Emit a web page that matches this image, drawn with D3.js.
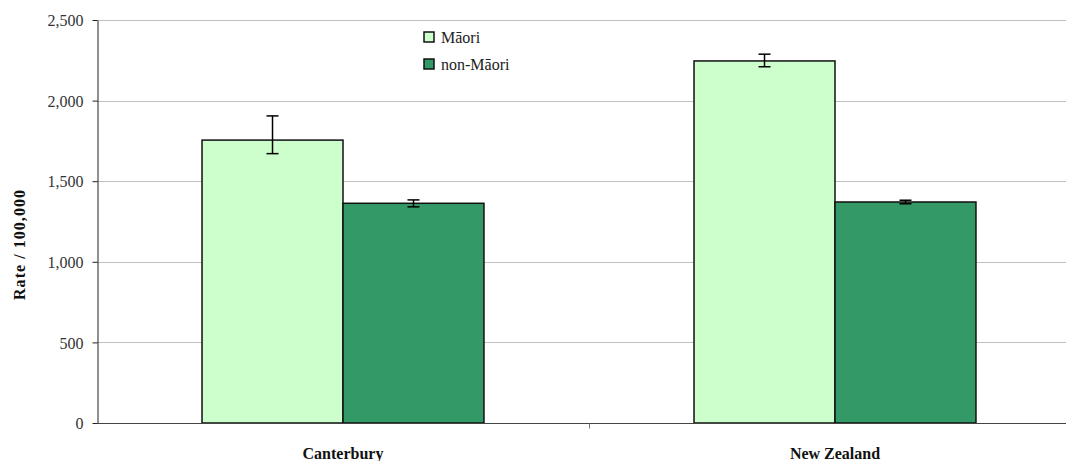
<!DOCTYPE html>
<html>
<head>
<meta charset="utf-8">
<script src="https://cdn.jsdelivr.net/npm/d3@7"></script>
<style>
  html, body { margin: 0; padding: 0; background: #fff; }
  svg { display: block; }
  svg text { font-family: "Liberation Serif", "DejaVu Serif", serif; }
</style>
</head>
<body>
<svg id="chart" width="1066" height="461"></svg>
<script>
// Rate per 100,000 by area and ethnicity, with 95% confidence intervals
const regions = ["Canterbury", "New Zealand"];
const groups = ["Māori", "non-Māori"];
const maoriRate = [1755, 2246];
const maoriLow = [1671, 2210];
const maoriHigh = [1905, 2288];
const nonMaoriRate = [1363, 1371];
const nonMaoriLow = [1341, 1360];
const nonMaoriHigh = [1384, 1382];
const yTicks = [0, 500, 1000, 1500, 2000, 2500];
const groupColours = ["#ccffcc", "#339966"];

const rows = regions.map((r, i) => ({
  region: r,
  values: [
    { group: groups[0], rate: maoriRate[i], lo: maoriLow[i], hi: maoriHigh[i] },
    { group: groups[1], rate: nonMaoriRate[i], lo: nonMaoriLow[i], hi: nonMaoriHigh[i] }
  ]
}));

const FONT = "'Liberation Serif', 'DejaVu Serif', serif";
const svg = d3.select("#chart");
const margin = { left: 97, top: 20, right: -15, bottom: 38 };
const W = 1066, H = 461;
const plotW = W - margin.left - margin.right;
const plotH = H - margin.top - margin.bottom;

const x0 = d3.scaleBand().domain(regions).range([margin.left, margin.left + plotW]).paddingInner(0).paddingOuter(0);
const x1 = d3.scaleBand().domain(groups).range([0, x0.bandwidth()]).paddingInner(0).paddingOuter(0.745);
const y = d3.scaleLinear().domain([0, 2500]).range([margin.top + plotH, margin.top]);
const colour = d3.scaleOrdinal().domain(groups).range(groupColours);

// horizontal gridlines
svg.append("g")
  .selectAll("line")
  .data(yTicks.filter(t => t > 0))
  .join("line")
  .attr("x1", margin.left).attr("x2", margin.left + plotW)
  .attr("y1", d => Math.round(y(d)) + 0.5).attr("y2", d => Math.round(y(d)) + 0.5)
  .attr("stroke", "#c0c0c0").attr("stroke-width", 1);

// bars
const cat = svg.append("g").selectAll("g")
  .data(rows).join("g")
  .attr("transform", d => `translate(${x0(d.region)},0)`);

cat.selectAll("rect")
  .data(d => d.values).join("rect")
  .attr("x", d => x1(d.group))
  .attr("width", x1.bandwidth())
  .attr("y", d => y(d.rate))
  .attr("height", d => y(0) - y(d.rate))
  .attr("fill", d => colour(d.group))
  .attr("stroke", "#111").attr("stroke-width", 1.5);

// confidence interval whiskers
const err = cat.selectAll("g.err")
  .data(d => d.values).join("g").attr("class", "err")
  .attr("transform", d => `translate(${x1(d.group) + x1.bandwidth() / 2},0)`);
err.append("line")
  .attr("y1", d => y(d.lo)).attr("y2", d => y(d.hi))
  .attr("stroke", "#000").attr("stroke-width", 1.5);
err.selectAll("line.cap")
  .data(d => [d.lo, d.hi]).join("line").attr("class", "cap")
  .attr("x1", -6).attr("x2", 6)
  .attr("y1", v => y(v)).attr("y2", v => y(v))
  .attr("stroke", "#000").attr("stroke-width", 1.5);

// y axis
const yAxis = svg.append("g")
  .attr("transform", `translate(${margin.left + 0.5},0)`)
  .call(d3.axisLeft(y).tickValues(yTicks).tickSize(5).tickSizeOuter(0).tickFormat(d3.format(",")));
yAxis.attr("font-family", FONT);
yAxis.select(".domain").attr("stroke", "#222");
yAxis.selectAll(".tick line").attr("stroke", "#222");
yAxis.selectAll(".tick text")
  .attr("x", -14).attr("dy", "0.35em")
  .attr("fill", "#333").style("font-size", "16px").style("font-family", FONT);

// x axis baseline with category dividers
const xAxisY = Math.round(y(0)) + 0.5;
svg.append("line")
  .attr("x1", margin.left).attr("x2", margin.left + plotW)
  .attr("y1", xAxisY).attr("y2", xAxisY)
  .attr("stroke", "#444").attr("stroke-width", 1);
svg.append("g").selectAll("line")
  .data(regions.slice(1)).join("line")
  .attr("x1", d => Math.round(x0(d)) + 0.5).attr("x2", d => Math.round(x0(d)) + 0.5)
  .attr("y1", xAxisY).attr("y2", xAxisY + 5)
  .attr("stroke", "#777");

// category labels
svg.append("g").selectAll("text")
  .data(regions).join("text")
  .attr("x", d => x0(d) + x0.bandwidth() / 2)
  .attr("y", 459)
  .attr("text-anchor", "middle")
  .attr("font-weight", "bold")
  .attr("fill", "#111")
  .style("font-size", "16px")
  .style("font-family", FONT)
  .text(d => d);

// y axis title
svg.append("text")
  .attr("transform", "translate(25,245) rotate(-90)")
  .attr("text-anchor", "middle")
  .attr("font-weight", "bold")
  .attr("fill", "#111")
  .style("font-size", "16px")
  .style("font-family", FONT)
  .attr("textLength", 110)
  .attr("lengthAdjust", "spacing")
  .text("Rate / 100,000");

// legend
const legend = svg.append("g").attr("transform", "translate(424,32)");
const item = legend.selectAll("g").data(groups).join("g")
  .attr("transform", (d, i) => `translate(0,${i * 27})`);
item.append("rect")
  .attr("width", 10).attr("height", 10)
  .attr("fill", d => colour(d))
  .attr("stroke", "#111").attr("stroke-width", 1.5);
item.append("text")
  .attr("x", 17).attr("y", 11)
  .attr("fill", "#222")
  .style("font-size", "16px")
  .style("font-family", FONT)
  .text(d => d);
</script>
</body>
</html>
